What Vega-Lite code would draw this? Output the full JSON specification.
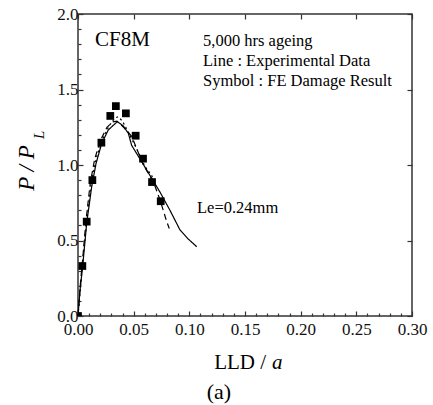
{
  "$schema": "https://vega.github.io/schema/vega-lite/v6.json",
  "width": 334,
  "height": 302,
  "autosize": {"type": "none"},
  "padding": {"left": 78, "top": 14, "right": 21, "bottom": 89},
  "background": "white",
  "config": {
    "view": {"stroke": "#333", "strokeWidth": 1.5},
    "font": "Liberation Serif",
    "text": {"font": "Liberation Serif"},
    "axis": {"grid": false, "domain": false, "labelFont": "Liberation Serif", "labelFontSize": 17, "labelColor": "#111", "tickColor": "#333", "tickWidth": 1.2, "labelOverlap": false, "labelFlush": false}
  },
  "datasets": {
    "fe": [
      {"lld": 0, "p": 0}, {"lld": 0.0039, "p": 0.331}, {"lld": 0.0078, "p": 0.625}, {"lld": 0.0129, "p": 0.9},
      {"lld": 0.021, "p": 1.148}, {"lld": 0.029, "p": 1.325}, {"lld": 0.034, "p": 1.39}, {"lld": 0.043, "p": 1.342},
      {"lld": 0.0518, "p": 1.194}, {"lld": 0.0584, "p": 1.042}, {"lld": 0.0665, "p": 0.887}, {"lld": 0.0743, "p": 0.76}
    ],
    "curves": [
      {"series": "solid", "lld": 0, "p": 0}, {"series": "solid", "lld": 0.0018, "p": 0.17}, {"series": "solid", "lld": 0.0042, "p": 0.33},
      {"series": "solid", "lld": 0.0078, "p": 0.615}, {"series": "solid", "lld": 0.0123, "p": 0.856}, {"series": "solid", "lld": 0.0162, "p": 1.01},
      {"series": "solid", "lld": 0.0213, "p": 1.143}, {"series": "solid", "lld": 0.0272, "p": 1.232}, {"series": "solid", "lld": 0.0353, "p": 1.287},
      {"series": "solid", "lld": 0.0405, "p": 1.26}, {"series": "solid", "lld": 0.0452, "p": 1.21}, {"series": "solid", "lld": 0.0482, "p": 1.13},
      {"series": "solid", "lld": 0.0557, "p": 1.04}, {"series": "solid", "lld": 0.0647, "p": 0.93}, {"series": "solid", "lld": 0.0737, "p": 0.82},
      {"series": "solid", "lld": 0.0826, "p": 0.7}, {"series": "solid", "lld": 0.0916, "p": 0.57}, {"series": "solid", "lld": 0.099, "p": 0.51},
      {"series": "solid", "lld": 0.1066, "p": 0.459},
      {"series": "dashed", "lld": 0, "p": 0}, {"series": "dashed", "lld": 0.002, "p": 0.2}, {"series": "dashed", "lld": 0.004, "p": 0.36},
      {"series": "dashed", "lld": 0.007, "p": 0.62}, {"series": "dashed", "lld": 0.011, "p": 0.88}, {"series": "dashed", "lld": 0.015, "p": 1.04},
      {"series": "dashed", "lld": 0.02, "p": 1.16}, {"series": "dashed", "lld": 0.026, "p": 1.25}, {"series": "dashed", "lld": 0.031, "p": 1.285},
      {"series": "dashed", "lld": 0.035, "p": 1.29}, {"series": "dashed", "lld": 0.041, "p": 1.25}, {"series": "dashed", "lld": 0.0482, "p": 1.19},
      {"series": "dashed", "lld": 0.0587, "p": 1.0}, {"series": "dashed", "lld": 0.0677, "p": 0.89}, {"series": "dashed", "lld": 0.0737, "p": 0.768},
      {"series": "dashed", "lld": 0.0797, "p": 0.625}, {"series": "dashed", "lld": 0.082, "p": 0.58},
      {"series": "dotted", "lld": 0, "p": 0}, {"series": "dotted", "lld": 0.004, "p": 0.34}, {"series": "dotted", "lld": 0.008, "p": 0.64},
      {"series": "dotted", "lld": 0.012, "p": 0.89}, {"series": "dotted", "lld": 0.017, "p": 1.06}, {"series": "dotted", "lld": 0.022, "p": 1.17},
      {"series": "dotted", "lld": 0.028, "p": 1.26}, {"series": "dotted", "lld": 0.033, "p": 1.31}, {"series": "dotted", "lld": 0.036, "p": 1.32},
      {"series": "dotted", "lld": 0.04, "p": 1.29}, {"series": "dotted", "lld": 0.045, "p": 1.22}, {"series": "dotted", "lld": 0.0512, "p": 1.13},
      {"series": "dotted", "lld": 0.0602, "p": 0.99}, {"series": "dotted", "lld": 0.0662, "p": 0.93}, {"series": "dotted", "lld": 0.069, "p": 0.88}
    ]
  },
  "layer": [
    {
      "data": {"name": "fe"},
      "mark": {"type": "point", "shape": "square", "filled": true, "color": "black", "opacity": 1, "size": 60, "clip": true},
      "encoding": {
        "x": {"field": "lld", "type": "quantitative", "scale": {"domain": [0, 0.3], "nice": false},
          "axis": {"orient": "bottom", "title": null, "labelFont": "Liberation Serif", "labelFontSize": 17,
            "values": [0,0.01,0.02,0.03,0.04,0.05,0.06,0.07,0.08,0.09,0.1,0.11,0.12,0.13,0.14,0.15,0.16,0.17,0.18,0.19,0.2,0.21,0.22,0.23,0.24,0.25,0.26,0.27,0.28,0.29,0.3],
            "labelExpr": "round(datum.value*100) % 5 === 0 ? format(datum.value, '.2f') : ''",
            "tickSize": {"condition": {"test": "round(datum.value*100) % 5 === 0", "value": -5}, "value": -3},
            "labelPadding": 10}},
        "y": {"field": "p", "type": "quantitative", "scale": {"domain": [0, 2], "nice": false},
          "axis": {"orient": "left", "title": null, "labelFont": "Liberation Serif", "labelFontSize": 17,
            "values": [0,0.1,0.2,0.3,0.4,0.5,0.6,0.7,0.8,0.9,1,1.1,1.2,1.3,1.4,1.5,1.6,1.7,1.8,1.9,2],
            "labelExpr": "round(datum.value*10) % 5 === 0 ? format(datum.value, '.1f') : ''",
            "tickSize": {"condition": {"test": "round(datum.value*10) % 5 === 0", "value": -5}, "value": -3},
            "labelPadding": 5}}
      }
    },
    {
      "data": {"name": "curves"},
      "mark": {"type": "line", "color": "black", "strokeWidth": 1.2},
      "encoding": {
        "x": {"field": "lld", "type": "quantitative", "scale": {"domain": [0, 0.3], "nice": false},
          "axis": {"orient": "top", "title": null, "labels": false, "values": [0,0.05,0.1,0.15,0.2,0.25,0.3], "tickSize": -5}},
        "y": {"field": "p", "type": "quantitative", "scale": {"domain": [0, 2], "nice": false},
          "axis": {"orient": "right", "title": null, "labels": false, "values": [0,0.5,1,1.5,2], "tickSize": -5}},
        "detail": {"field": "series"},
        "strokeDash": {"field": "series", "type": "nominal", "scale": {"domain": ["solid", "dashed", "dotted"], "range": [[1, 0], [6, 4], [2, 3]]}, "legend": null}
      }
    },
    {
      "data": {"values": [{"x": 0.0153, "y": 1.828, "t": "CF8M"}]},
      "mark": {"type": "text", "align": "left", "baseline": "middle", "fontSize": 21, "font": "Liberation Serif", "color": "black"},
      "encoding": {"x": {"field": "x", "type": "quantitative", "axis": null}, "y": {"field": "y", "type": "quantitative", "axis": null}, "text": {"field": "t"}}
    },
    {
      "data": {"values": [
        {"x": 0.1123, "y": 1.821, "t": "5,000 hrs ageing"},
        {"x": 0.1123, "y": 1.689, "t": "Line : Experimental Data"},
        {"x": 0.1123, "y": 1.556, "t": "Symbol : FE Damage Result"},
        {"x": 0.1069, "y": 0.715, "t": "Le=0.24mm"}
      ]},
      "mark": {"type": "text", "align": "left", "baseline": "middle", "fontSize": 16.5, "font": "Liberation Serif", "color": "black"},
      "encoding": {"x": {"field": "x", "type": "quantitative", "axis": null}, "y": {"field": "y", "type": "quantitative", "axis": null}, "text": {"field": "t"}}
    },
    {
      "data": {"values": [{"x": 0.1689, "y": -0.31, "t": "LLD /"}]},
      "mark": {"type": "text", "align": "right", "baseline": "middle", "fontSize": 21, "font": "Liberation Serif", "color": "black"},
      "encoding": {"x": {"field": "x", "type": "quantitative", "axis": null}, "y": {"field": "y", "type": "quantitative", "axis": null}, "text": {"field": "t"}}
    },
    {
      "data": {"values": [{"x": 0.1743, "y": -0.31, "t": "a"}]},
      "mark": {"type": "text", "align": "left", "baseline": "middle", "fontSize": 21, "fontStyle": "italic", "font": "Liberation Serif", "color": "black"},
      "encoding": {"x": {"field": "x", "type": "quantitative", "axis": null}, "y": {"field": "y", "type": "quantitative", "axis": null}, "text": {"field": "t"}}
    },
    {
      "data": {"values": [{"x": 0.1266, "y": -0.5, "t": "(a)"}]},
      "mark": {"type": "text", "align": "center", "baseline": "middle", "fontSize": 22, "font": "Liberation Serif", "color": "black"},
      "encoding": {"x": {"field": "x", "type": "quantitative", "axis": null}, "y": {"field": "y", "type": "quantitative", "axis": null}, "text": {"field": "t"}}
    },
    {
      "data": {"values": [{"x": -0.0458, "y": 0.98, "t": "P / P"}]},
      "mark": {"type": "text", "align": "center", "baseline": "middle", "angle": 270, "fontSize": 23, "fontStyle": "italic", "font": "Liberation Serif", "color": "black"},
      "encoding": {"x": {"field": "x", "type": "quantitative", "axis": null}, "y": {"field": "y", "type": "quantitative", "axis": null}, "text": {"field": "t"}}
    },
    {
      "data": {"values": [{"x": -0.035, "y": 1.199, "t": "L"}]},
      "mark": {"type": "text", "align": "center", "baseline": "middle", "angle": 270, "fontSize": 15, "fontStyle": "italic", "font": "Liberation Serif", "color": "black"},
      "encoding": {"x": {"field": "x", "type": "quantitative", "axis": null}, "y": {"field": "y", "type": "quantitative", "axis": null}, "text": {"field": "t"}}
    }
  ],
  "resolve": {"axis": {"x": "independent", "y": "independent"}}
}
